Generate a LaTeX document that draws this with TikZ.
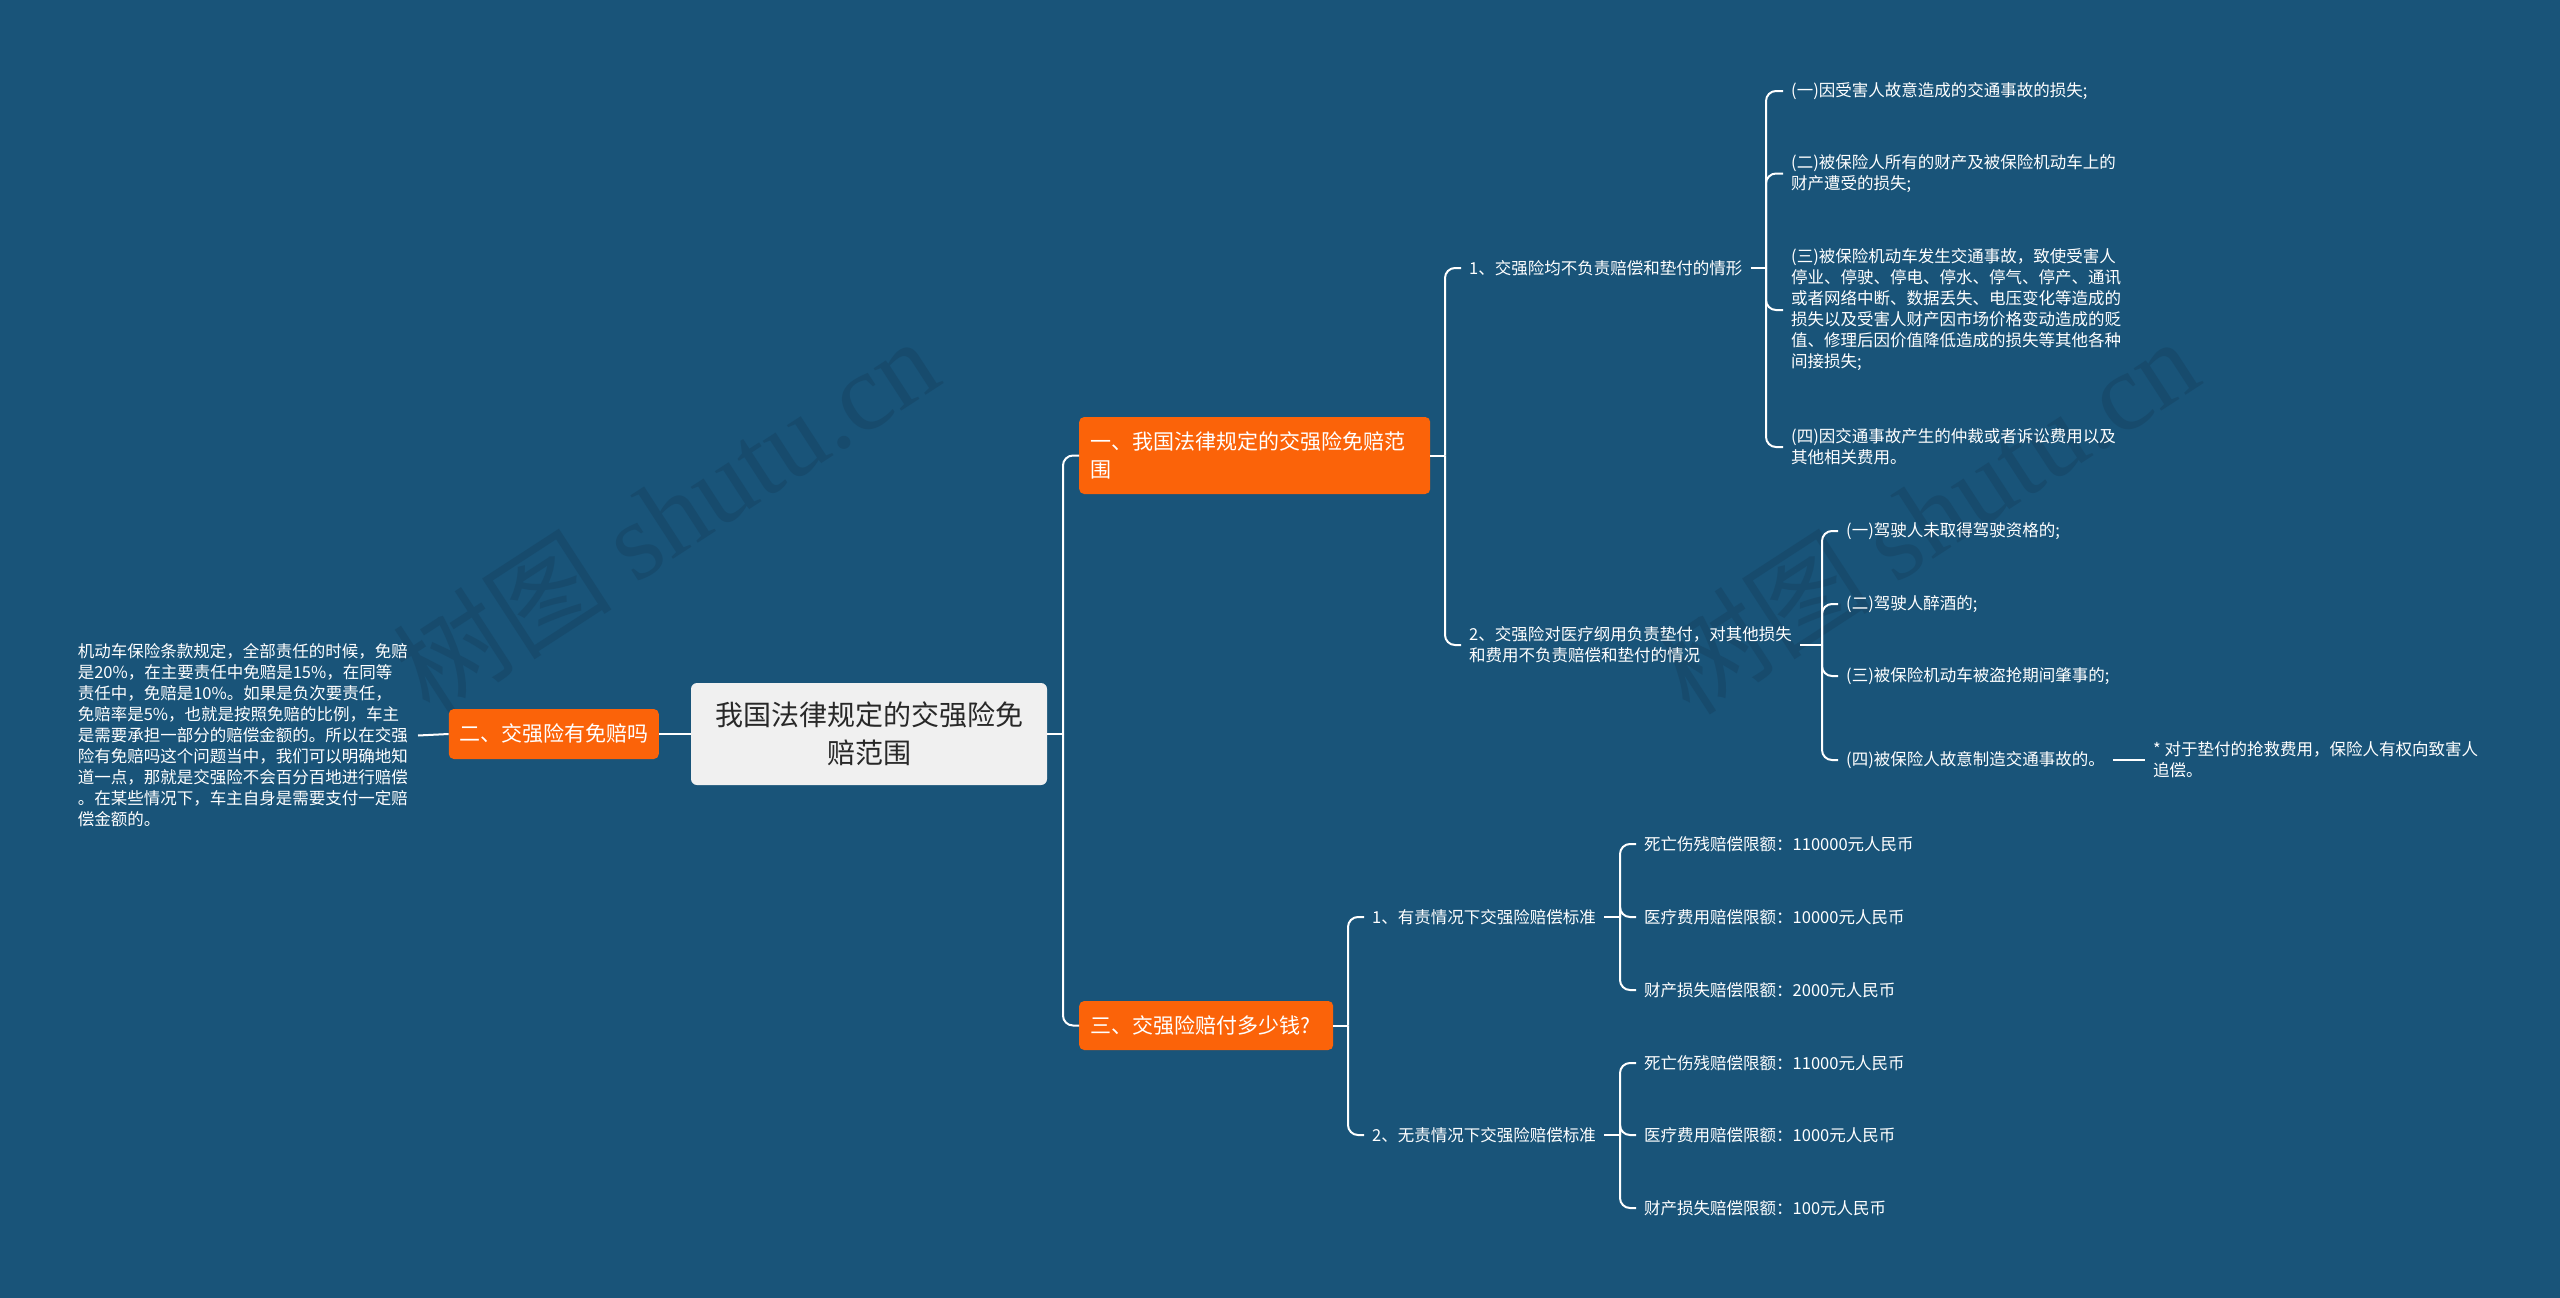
\documentclass[tikz,border=0pt]{standalone}
\usepackage{fontspec}
\setmainfont{Noto Sans CJK SC}
\newfontfamily\wmserif{Liberation Serif}
\definecolor{mapbg}{RGB}{25,84,121}
\definecolor{wmcol}{RGB}{23,75,109}
\definecolor{orng}{RGB}{251,99,9}
\definecolor{rootfill}{RGB}{240,240,240}
\definecolor{roottext}{RGB}{40,40,40}
\begin{document}
\begin{tikzpicture}[x=1pt,y=-1pt,
  conn/.style={draw=white,line width=2pt,rounded corners=10pt},
  leaf/.style={text=white,font=\fontsize{16.5}{21}\selectfont,inner xsep=8pt,inner ysep=2pt,align=left,anchor=west},
  obox/.style={fill=orng,rounded corners=5pt,text=white,font=\fontsize{21}{28}\selectfont,inner xsep=11pt,inner ysep=0pt,align=left},
  wm/.style={text=wmcol,font=\fontsize{110}{120}\selectfont,inner sep=0pt}
]
\fill[mapbg] (0,0) rectangle (2560,1298);
\useasboundingbox (0,0) rectangle (2560,1298);

% watermarks
\node[wm,rotate=33] (wm1) at (665,515) {树图 {\wmserif shutu.cn}};
\node[wm,rotate=33] (wm2) at (1925,515) {树图 {\wmserif shutu.cn}};

% spine coordinates
\coordinate (sR) at (1063,0);
\coordinate (s1) at (1445,0);
\coordinate (s11) at (1766,0);
\coordinate (s12) at (1822,0);
\coordinate (s3) at (1348,0);
\coordinate (s31) at (1620,0);

% root
\node[fill=rootfill,rounded corners=6pt,text=roottext,font=\fontsize{28}{37.5}\selectfont,align=center,minimum width=356pt,minimum height=102pt,inner sep=0pt] (root) at (869,734) {我国法律规定的交强险免\\赔范围};

% main branches
\node[obox,anchor=west,text width=329pt,minimum height=77pt] (n1) at (1079,455.5) {一、我国法律规定的交强险免赔范\\围};
\node[obox,anchor=east,align=center,text width=188pt,inner xsep=11pt,minimum height=50pt] (n2) at (659,734) {二、交强险有免赔吗};
\node[obox,anchor=west,text width=232pt,minimum height=49pt] (n3) at (1079,1025.5) {三、交强险赔付多少钱?};

% left paragraph
\node[text=white,font=\fontsize{16.5}{21}\selectfont,align=left,inner xsep=10pt,inner ysep=2pt,anchor=east] (para) at (418,735.5) {机动车保险条款规定，全部责任的时候，免赔\\是20\%，在主要责任中免赔是15\%，在同等\\责任中，免赔是10\%。如果是负次要责任，\\免赔率是5\%，也就是按照免赔的比例，车主\\是需要承担一部分的赔偿金额的。所以在交强\\险有免赔吗这个问题当中，我们可以明确地知\\道一点，那就是交强险不会百分百地进行赔偿\\。在某些情况下，车主自身是需要支付一定赔\\偿金额的。};

% level 2 under n1
\node[leaf] (n11) at (1461,268) {1、交强险均不负责赔偿和垫付的情形};
\node[leaf] (n12) at (1461,645) {2、交强险对医疗纲用负责垫付，对其他损失\\和费用不负责赔偿和垫付的情况};

% level 3 under n11
\node[leaf] (c111) at (1783,91) {(一)因受害人故意造成的交通事故的损失;};
\node[leaf] (c112) at (1783,173.5) {(二)被保险人所有的财产及被保险机动车上的\\财产遭受的损失;};
\node[leaf] (c113) at (1783,310) {(三)被保险机动车发生交通事故，致使受害人\\停业、停驶、停电、停水、停气、停产、通讯\\或者网络中断、数据丢失、电压变化等造成的\\损失以及受害人财产因市场价格变动造成的贬\\值、修理后因价值降低造成的损失等其他各种\\间接损失;};
\node[leaf] (c114) at (1783,447) {(四)因交通事故产生的仲裁或者诉讼费用以及\\其他相关费用。};

% level 3 under n12
\node[leaf] (c121) at (1838,531) {(一)驾驶人未取得驾驶资格的;};
\node[leaf] (c122) at (1838,604) {(二)驾驶人醉酒的;};
\node[leaf] (c123) at (1838,676) {(三)被保险机动车被盗抢期间肇事的;};
\node[leaf] (c124) at (1838,760) {(四)被保险人故意制造交通事故的。};
\node[leaf] (c1241) at (2145,760) {* 对于垫付的抢救费用，保险人有权向致害人\\追偿。};

% level 2 under n3
\node[leaf] (n31) at (1364,917) {1、有责情况下交强险赔偿标准};
\node[leaf] (n32) at (1364,1135) {2、无责情况下交强险赔偿标准};

\node[leaf] (c311) at (1636,844) {死亡伤残赔偿限额：110000元人民币};
\node[leaf] (c312) at (1636,917) {医疗费用赔偿限额：10000元人民币};
\node[leaf] (c313) at (1636,990) {财产损失赔偿限额：2000元人民币};
\node[leaf] (c321) at (1636,1063) {死亡伤残赔偿限额：11000元人民币};
\node[leaf] (c322) at (1636,1135) {医疗费用赔偿限额：1000元人民币};
\node[leaf] (c323) at (1636,1208) {财产损失赔偿限额：100元人民币};

% connectors: stub from parent to spine, then spine to each child
\draw[conn] (root.east) -- (root.east -| sR);
\foreach \c in {n1,n3}
  \draw[conn] (root.east -| sR) |- (\c.west);
\draw[conn] (root.west) -- (n2.east);
\draw[conn] (n2.west) -- (para.east);

\draw[conn] (n1.east) -- (n1.east -| s1);
\foreach \c in {n11,n12}
  \draw[conn] (n1.east -| s1) |- (\c.west);
\draw[conn] (n11.east) -- (n11.east -| s11);
\foreach \c in {c111,c112,c113,c114}
  \draw[conn] (n11.east -| s11) |- (\c.west);
\draw[conn] (n12.east) -- (n12.east -| s12);
\foreach \c in {c121,c122,c123,c124}
  \draw[conn] (n12.east -| s12) |- (\c.west);
\draw[conn] (c124.east) -- (c1241.west);

\draw[conn] (n3.east) -- (n3.east -| s3);
\foreach \c in {n31,n32}
  \draw[conn] (n3.east -| s3) |- (\c.west);
\draw[conn] (n31.east) -- (n31.east -| s31);
\foreach \c in {c311,c312,c313}
  \draw[conn] (n31.east -| s31) |- (\c.west);
\draw[conn] (n32.east) -- (n32.east -| s31);
\foreach \c in {c321,c322,c323}
  \draw[conn] (n32.east -| s31) |- (\c.west);
\end{tikzpicture}
\end{document}
